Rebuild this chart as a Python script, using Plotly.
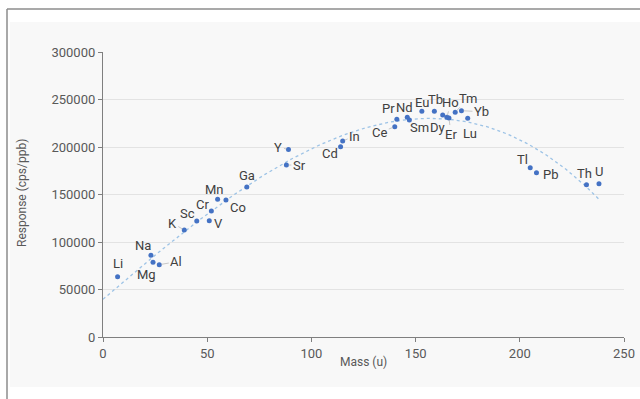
import numpy as np
import plotly.graph_objects as go

elements = ["Li", "Na", "Mg", "Al", "K", "Sc", "V", "Cr", "Mn", "Co", "Ga", "Sr", "Y",
            "Cd", "In", "Ce", "Pr", "Nd", "Sm", "Eu", "Tb", "Dy", "Ho", "Er", "Tm", "Yb",
            "Lu", "Tl", "Pb", "Th", "U"]
mass = [7, 23, 24, 27, 39, 45, 51, 52, 55, 59, 69, 88, 89,
        114, 115, 140, 141, 146, 147, 153, 159, 163, 165, 166, 169, 172,
        175, 205, 208, 232, 238]
response = [63500, 86000, 78600, 76100, 112600, 122100, 122400, 132600, 145000, 144200,
            157900, 181000, 197500, 200300, 206300, 221400, 229100, 231200, 228400,
            237600, 237600, 233700, 231200, 230500, 236500, 238200, 230200, 178200,
            173000, 160300, 161400]
x_title = "Mass (u)"
y_title = "Response (cps/ppb)"

label_dx = {"Li": 0, "Na": -8, "Mg": -7, "Al": 17, "K": -12, "Sc": -9, "V": 9, "Cr": -9,
            "Mn": -3, "Co": 12, "Ga": 0, "Sr": 13, "Y": -10, "Cd": -11, "In": 12, "Ce": -15,
            "Pr": -8, "Nd": -3, "Sm": 10, "Eu": 0, "Tb": 1, "Dy": -5, "Ho": 4, "Er": 2,
            "Tm": 13, "Yb": 20, "Lu": 2, "Tl": -8, "Pb": 15, "Th": -2, "U": 0}
label_dy = {"Li": -13, "Na": -10, "Mg": 12, "Al": -3, "K": -7, "Sc": -8, "V": 3, "Cr": -7,
            "Mn": -10, "Co": 7, "Ga": -12, "Sr": 0, "Y": -2, "Cd": 7, "In": -5, "Ce": 6,
            "Pr": -11, "Nd": -10, "Sm": 7, "Eu": -9, "Tb": -12, "Dy": 13, "Ho": -15, "Er": 16,
            "Tm": -14, "Yb": 1, "Lu": 15, "Tl": -8, "Pb": 2, "Th": -11, "U": -12}
leaders = {"Al", "K", "Y", "Sr", "In", "Ce", "Er", "Tm", "Yb", "Ho"}

# polynomial trendline fitted to the data
trend_degree = 3
coef = np.polyfit(mass, response, trend_degree)
xt = np.linspace(0, max(mass), 200)
yt = np.polyval(coef, xt)

fig = go.Figure()
fig.add_trace(go.Scatter(x=xt, y=yt, mode="lines",
                         line=dict(color="#9dc3e6", width=1.3, dash="dot"),
                         hoverinfo="skip", showlegend=False))
fig.add_trace(go.Scatter(x=mass, y=response, mode="markers",
                         marker=dict(color="#4472c4", size=5),
                         text=elements, showlegend=False))

annotations = []
for el, m, r in zip(elements, mass, response):
    dx, dy = label_dx[el], label_dy[el]
    if el in leaders:
        annotations.append(dict(x=m, y=r, text=el, showarrow=True, ax=dx, ay=dy,
                                arrowhead=0, arrowwidth=0.6, arrowcolor="#a6a6a6",
                                standoff=2, startstandoff=0,
                                font=dict(size=13, color="#404040", family="Roboto")))
    else:
        annotations.append(dict(x=m, y=r, text=el, showarrow=False, xshift=dx, yshift=-dy,
                                font=dict(size=13, color="#404040", family="Roboto")))

L, R, T, B = 103, 624, 52, 337
def px(x):
    return (x - L) / (R - L)
def py(y):
    return (B - y) / (B - T)

annotations.append(dict(xref="paper", yref="paper", x=0.5, y=py(362), text=x_title,
                        showarrow=False, xanchor="center", yanchor="middle",
                        font=dict(size=12, color="#595959", family="Roboto")))
annotations.append(dict(xref="paper", yref="paper", x=px(22), y=py(193), text=y_title,
                        showarrow=False, xanchor="center", yanchor="middle", textangle=-90,
                        font=dict(size=12, color="#595959", family="Roboto")))

shapes = [
    dict(type="rect", xref="paper", yref="paper", x0=px(10), x1=px(641), y0=py(387), y1=py(22),
         fillcolor="#f8f8f8", line=dict(width=0), layer="below"),
    dict(type="line", xref="paper", yref="paper", x0=px(7), x1=px(7), y0=py(400), y1=py(9),
         line=dict(color="#8c8c8c", width=1.5)),
    dict(type="line", xref="paper", yref="paper", x0=px(7), x1=px(641), y0=py(9), y1=py(9),
         line=dict(color="#8c8c8c", width=1.5)),
]

fig.update_layout(
    width=640, height=399,
    margin=dict(l=L, r=640 - R, t=T, b=399 - B, autoexpand=False),
    paper_bgcolor="white", plot_bgcolor="rgba(0,0,0,0)",
    font=dict(family="Roboto", color="#595959", size=13),
    shapes=shapes, annotations=annotations,
    xaxis=dict(range=[0, 250], dtick=50, showgrid=False, zeroline=False,
               showline=True, linecolor="#7f7f7f", linewidth=1.2,
               ticks="outside", ticklen=4, tickcolor="#7f7f7f", automargin=False),
    yaxis=dict(range=[0, 300000], dtick=50000, showgrid=True, gridcolor="#e3e3e3",
               gridwidth=1, zeroline=False, showline=True, linecolor="#7f7f7f",
               linewidth=1.2, ticks="outside", ticklen=4, tickcolor="#7f7f7f",
               tickformat="d", automargin=False),
)

fig.write_html("out.html", config={"displayModeBar": False},
               post_script="document.body.style.margin='0';document.body.style.overflow='hidden';")
